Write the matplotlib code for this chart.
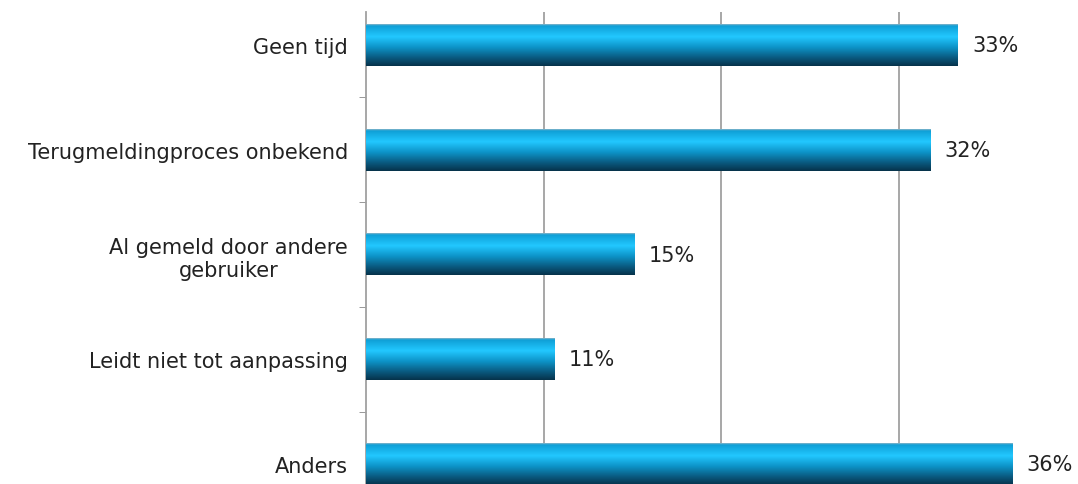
import matplotlib
matplotlib.use("Agg")
import matplotlib.pyplot as plt
import numpy as np
from matplotlib.colors import LinearSegmentedColormap

categories = ["Geen tijd", "Terugmeldingproces onbekend",
              "Al gemeld door andere\ngebruiker", "Leidt niet tot aanpassing",
              "Anders"]
values = [33.35, 31.8, 15.15, 10.6, 36.4]
labels = ["33%", "32%", "15%", "11%", "36%"]

W, H = 1078, 485
fig = plt.figure(figsize=(W / 100, H / 100), dpi=100)

# axes: left edge at x=366 px, top at y=13 px, running off the bottom/right
step = 104.75
top_px = 13
bot_px = 46 + 4.5 * step
ax = fig.add_axes([366 / W, 1 - bot_px / H, (W - 366) / W, (bot_px - top_px) / H])
ax.set_xlim(0, (W - 366) / 17.75)
ax.set_ylim(4.5, -(46 - top_px) / step)

# cylinder-like shading
shade = LinearSegmentedColormap.from_list("bar", [
    (0.0, "#8fb6c8"), (0.04, "#0f9fd6"), (0.3, "#22c8ff"),
    (0.55, "#0d94c8"), (0.8, "#0a5a80"), (1.0, "#06324a")])
grad = np.linspace(0, 1, 256).reshape(-1, 1)

h = 0.4
for i, v in enumerate(values):
    ax.imshow(grad, cmap=shade, aspect="auto", extent=[0, v, i + h / 2, i - h / 2],
              interpolation="bilinear", zorder=3)
    ax.text(v + 0.8, i, labels[i], va="center", ha="left", fontsize=15,
            color="#222222", zorder=4)

ax.set_xticks([10, 20, 30])
ax.tick_params(axis="x", length=0, labelbottom=False)
ax.grid(axis="x", color="#a0a0a0", linewidth=1.3, zorder=0)

ax.set_yticks(range(len(categories)))
ax.set_yticklabels(categories, fontsize=15, color="#222222")
ax.tick_params(axis="y", length=0, pad=13)
ax.set_yticks([0.5, 1.5, 2.5, 3.5], minor=True)
ax.tick_params(axis="y", which="minor", length=5, color="#888888")
for lab in ax.get_yticklabels():
    lab.set_multialignment("center")

for s in ["top", "right", "bottom"]:
    ax.spines[s].set_visible(False)
ax.spines["left"].set_color("#a0a0a0")
ax.spines["left"].set_linewidth(1.3)

fig.savefig("out.png", dpi=100)
